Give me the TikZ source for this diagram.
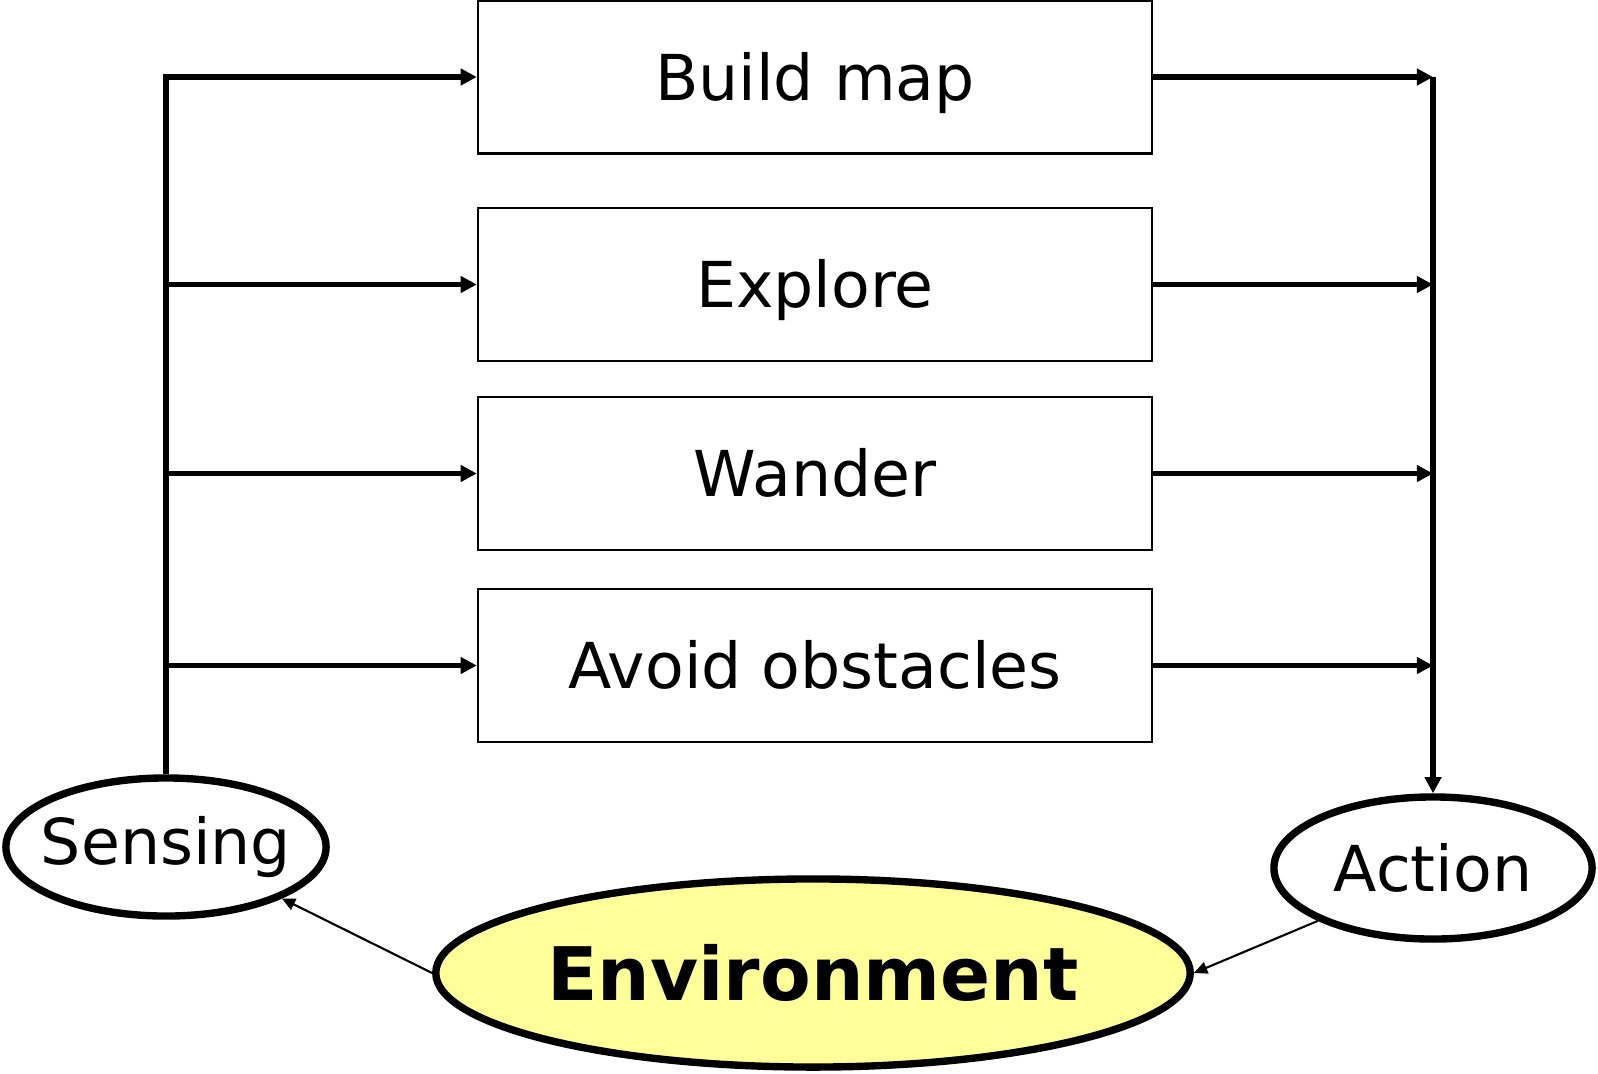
\documentclass[tikz,border=0pt]{standalone}
\usepackage{fontspec}
\setmainfont{DejaVu Sans}
\usepackage{tikz}
\usetikzlibrary{arrows.meta,shapes,calc}
\definecolor{envyellow}{RGB}{255,255,153}

\begin{document}
\begin{tikzpicture}[x=0.01cm,y=-0.01cm,
  box/.style={draw, line width=0.6pt, minimum width=6.74cm, minimum height=1.53cm, inner sep=0pt, text height=0.46cm, text depth=0pt, font=\fontsize{18}{22}\selectfont},
  oval/.style={draw, ellipse, line width=2.1pt, inner sep=0pt, font=\fontsize{18}{22}\selectfont},
  flow/.style={line width=1.6pt, -{Triangle[length=4.6pt,width=4.6pt]}},
  feed/.style={line width=0.6pt, -{Triangle[length=3.8pt,width=3.4pt]}}]
\useasboundingbox (0,0) rectangle (1598,1073);
\node[box] (map) at (815,77) {Build map};
\node[box] (explore) at (815,284.5) {Explore};
\node[box] (wander) at (815,473.5) {Wander};
\node[box] (avoid) at (815,665.5) {Avoid obstacles};
\node[oval, minimum width=3.2cm, minimum height=1.38cm] (sense) at (166,847) {\makebox[0pt]{Sensing}};
\node[oval, minimum width=3.18cm, minimum height=1.42cm] (act) at (1433,868) {\makebox[0pt]{Action}};
\node[oval, fill=envyellow, minimum width=7.54cm, minimum height=1.88cm, font=\fontsize{21}{25}\selectfont\bfseries] (env) at (813,973) {\makebox[0pt]{Environment}};
% sensing feeds every layer
\draw[flow] (sense.north) |- (map.west);
\foreach \b in {explore,wander,avoid}
  \draw[flow] (sense.north |- \b.west) -- (\b.west);
% every layer drives the action
\foreach \b in {map,explore,wander,avoid}
  \draw[flow] (\b.east) -- (\b.east -| act.north);
\draw[flow] (map.east -| act.north) -- (act.north);
% loop through the world
\draw[feed] (env.west) -- (sense.south east);
\draw[feed] (act.south west) -- (env.east);
\end{tikzpicture}
\end{document}
